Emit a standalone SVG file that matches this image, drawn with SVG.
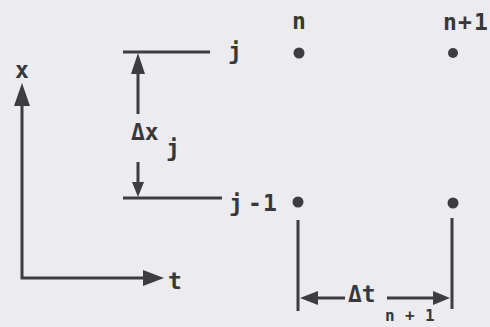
<svg xmlns="http://www.w3.org/2000/svg" width="490" height="327" viewBox="0 0 490 327">
<style>
.bg{fill:#ecebef}
.ln{stroke:#3d3d3f;stroke-width:3;fill:none;stroke-linecap:butt}
.ah{fill:#3d3d3f}
.lb{font-family:"DejaVu Sans Mono","Liberation Mono",monospace;font-weight:bold;fill:#38383a;font-size:23px}
.sb{font-size:16px}
.dot{fill:#3d3d3f}
</style>
<rect class="bg" x="0" y="0" width="490" height="327"/>
<g id="connectors">
  <path class="ln" d="M22,104 V278 H146"/>
  <polygon class="ah" points="22,83 14,106 30,106"/>
  <polygon class="ah" points="164,278 143,270 143,286"/>
  <line class="ln" x1="123" y1="52" x2="210" y2="52"/>
  <line class="ln" x1="123" y1="198" x2="222" y2="198"/>
  <line class="ln" x1="138" y1="70" x2="138" y2="114"/>
  <polygon class="ah" points="138,53 131,74 145,74"/>
  <line class="ln" x1="138" y1="162" x2="138" y2="184"/>
  <polygon class="ah" points="138,197 132,182 144,182"/>
  <line class="ln" x1="298" y1="220" x2="298" y2="311"/>
  <line class="ln" x1="452" y1="218" x2="452" y2="309"/>
  <line class="ln" x1="316" y1="298" x2="345" y2="298"/>
  <polygon class="ah" points="300,298 318,291 318,305"/>
  <line class="ln" x1="387" y1="298" x2="436" y2="298"/>
  <polygon class="ah" points="450,298 433,291 433,305"/>
</g>
<g id="node-n-j"><circle class="dot" cx="299" cy="53" r="5.5"/></g>
<g id="node-n1-j"><circle class="dot" cx="453" cy="53" r="5"/></g>
<g id="node-n-j1"><circle class="dot" cx="298" cy="202" r="5.5"/></g>
<g id="node-n1-j1"><circle class="dot" cx="453" cy="203" r="5.5"/></g>
<g id="labels">
  <text class="lb" x="15" y="78">x</text>
  <text class="lb" x="168" y="289" font-size="24">t</text>
  <text class="lb" x="228" y="59">j</text>
  <text class="lb" x="292" y="29">n</text>
  <text class="lb" x="443 458 474" y="30">n+1</text>
  <text class="lb" x="229 248 263" y="211">j-1</text>
  <text class="lb" x="131" y="140">Δx</text>
  <text class="lb" x="166" y="156" font-size="20">j</text>
  <text class="lb" x="348" y="302">Δt</text>
  <text class="lb sb" x="385 405 425" y="321">n+1</text>
</g>
</svg>
